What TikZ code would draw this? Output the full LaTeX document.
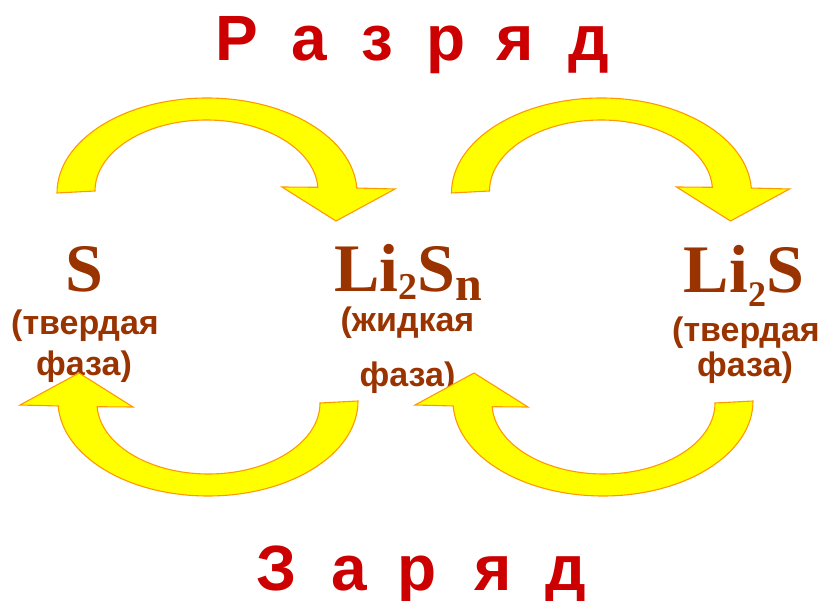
\documentclass[tikz,border=0pt]{standalone}
\usepackage{fontspec}
\setmainfont{Liberation Serif}
\newfontfamily\headfont{Liberation Sans}
\definecolor{titlered}{HTML}{CC0000}
\definecolor{chembrown}{HTML}{993300}
\definecolor{arrowfill}{HTML}{FFFF00}
\definecolor{arrowline}{HTML}{FF9900}
\tikzset{
  titleletter/.style={text=titlered, font=\headfont\bfseries\fontsize{64}{64}\selectfont, anchor=base, inner sep=0pt},
  formula/.style={text=chembrown, font=\bfseries\fontsize{68}{68}\selectfont, anchor=base, inner sep=0pt},
  phase/.style={text=chembrown, font=\headfont\bfseries\fontsize{34}{34}\selectfont, anchor=base, inner sep=0pt},
  arrowbody/.style={fill=arrowfill, draw=arrowline, line width=1.1pt, line join=miter},
  % curved block arrow, drawn around its own centre of symmetry
  bigarrow/.pic={
    \path[arrowbody] (-150.5,-104)
      arc[start angle=180, end angle=357, x radius=150, y radius=95]
      -- (187.5,-108) -- (128.5,-76) -- (74.5,-110) -- (110.35,-109.72)
      arc[start angle=357, end angle=180, x radius=111.5, y radius=71]
      -- cycle;
  }
}
\newcommand{\subsc}[3]{\raisebox{-#2pt}{\fontsize{#1}{#1}\selectfont #3}}
\begin{document}
\begin{tikzpicture}[x=1pt, y=-1pt]
\useasboundingbox (0,0) rectangle (819,601);

% heading: discharge
\node[titleletter] (d1) at (236.5,61) {Р};
\node[titleletter] (d2) at (309,61) {а};
\node[titleletter] (d3) at (377.5,61) {з};
\node[titleletter] (d4) at (446,61) {р};
\node[titleletter] (d5) at (515.5,61) {я};
\node[titleletter] (d6) at (589,61) {д};

% heading: charge
\node[titleletter] (c1) at (276.5,590) {З};
\node[titleletter] (c2) at (349,590) {а};
\node[titleletter] (c3) at (417.5,590) {р};
\node[titleletter] (c4) at (493.5,590) {я};
\node[titleletter] (c5) at (566,590) {д};

% species
\node[formula] (sulfur) at (84,292) {S};
\node[formula] (poly) at (408.5,292) {Li\subsc{38}{8}{2}S\subsc{48}{9}{n}};
\node[formula] (sulfide) at (744,293) {Li\subsc{36}{14}{2}S};

\node[phase] (sulfurA) at (85,335) {(твердая};
\node[phase] (sulfurB) at (84,376) {фаза)};
\node[phase] (polyA) at (407.5,332) {(жидкая};
\node[phase] (polyB) at (407.5,387) {фаза)};
\node[phase] (sulfideA) at (746,342) {(твердая};
\node[phase] (sulfideB) at (745,377) {фаза)};

% cycle arrows
\pic (dis1) at (207.5,297) {bigarrow};
\pic (dis2) at (602,297) {bigarrow};
\pic[rotate=180] (chg1) at (207.5,297) {bigarrow};
\pic[rotate=180] (chg2) at (602.5,297) {bigarrow};
\end{tikzpicture}
\end{document}
